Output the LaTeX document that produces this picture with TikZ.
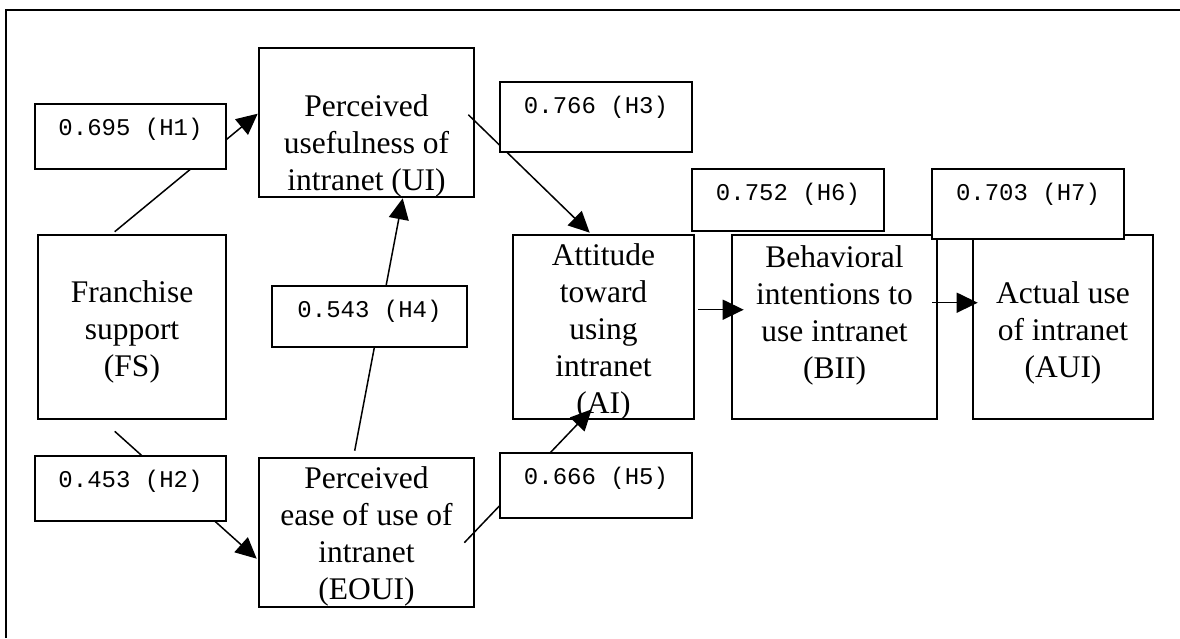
\documentclass[tikz,border=0pt]{standalone}
\usepackage{fontspec}
\setmainfont{Liberation Serif}
\setmonofont{Liberation Mono}
\usetikzlibrary{arrows.meta,calc}
\newcommand{\ls}{\rule[-9pt]{0pt}{37pt}}
\tikzset{
  mainbox/.style={draw, line width=2.6pt, fill=white, inner sep=0pt},
  boxtext/.style={align=center, inner sep=0pt, font=\fontsize{31.5}{37}\selectfont},
  coefbox/.style={draw, line width=2pt, fill=white, inner sep=0pt, text height=31pt,
    font=\ttfamily\fontsize{24}{28}\selectfont},
  link/.style={line width=1.5pt, -{Triangle[length=21pt,width=20pt]}},
  frameline/.style={line width=2.8pt}
}
\begin{document}
\begin{tikzpicture}[x=1pt,y=-1pt]
\useasboundingbox (0,0) rectangle (1180,638);
% outer frame (open to the right and bottom)
\coordinate (fcorner) at (6,10);
\coordinate (fbottom) at (6,638);
\coordinate (fright) at (1180,10);
\draw[frameline] (fbottom) -- (fcorner) -- (fright);

% main boxes
\node[mainbox, minimum width=215pt, minimum height=149pt] (UI) at (366.5,122.5) {};
\node[mainbox, minimum width=188pt, minimum height=184pt] (FS) at (132,327) {};
\node[mainbox, minimum width=181pt, minimum height=184pt] (ATT) at (603.5,327) {};
\node[mainbox, minimum width=205pt, minimum height=184pt] (BII) at (834.5,327) {};
\node[mainbox, minimum width=180pt, minimum height=184pt] (AUI) at (1063,327) {};
\node[mainbox, minimum width=215pt, minimum height=149pt] (EOUI) at (366.5,532.5) {};

% box texts
\node[boxtext] (tUI) at ($(UI.center)+(0,21)$) {\ls Perceived\\\ls usefulness of\\\ls intranet (UI)};
\node[boxtext] (tFS) at ($(FS.center)+(0,2.5)$) {\ls Franchise\\\ls support\\\ls (FS)};
\node[boxtext] (tATT) at ($(ATT.center)+(0,2.5)$) {\ls Attitude\\\ls toward\\\ls using\\\ls intranet\\\ls (AI)};
\node[boxtext] (tBII) at ($(BII.center)+(0,-14)$) {\ls Behavioral\\\ls intentions to\\\ls use intranet\\\ls (BII)};
\node[boxtext] (tAUI) at ($(AUI.center)+(0,3.5)$) {\ls Actual use\\\ls of intranet\\\ls (AUI)};
\node[boxtext] (tEOUI) at ($(EOUI.center)+(0,1.5)$) {\ls Perceived\\\ls ease of use of\\\ls intranet\\\ls (EOUI)};

% connector end points
\coordinate (h1s) at ($(FS.north west)+(78,-2)$);
\coordinate (h1e) at ($(UI.north west)+(0,67)$);
\coordinate (h3s) at ($(UI.north east)+(-7,68)$);
\coordinate (h3e) at ($(ATT.north west)+(78,-1)$);
\coordinate (h4s) at ($(EOUI.north west)+(97,-6)$);
\coordinate (h4e) at ($(UI.south west)+(145,0)$);
\coordinate (h2s) at ($(FS.south west)+(78,11)$);
\coordinate (h2e) at ($(EOUI.north west)+(-1,102)$);
\coordinate (h5s) at ($(EOUI.north east)+(-11,86)$);
\coordinate (h5e) at ($(ATT.south west)+(80,-11)$);
\coordinate (h6s) at ($(ATT.north east)+(3,76)$);
\coordinate (h6e) at ($(BII.north west)+(13,76)$);
\coordinate (h7s) at ($(BII.north east)+(-6,69)$);
\coordinate (h7e) at ($(AUI.north west)+(6,69)$);

% connectors
\draw[link] (h1s) -- (h1e);
\draw[link] (h3s) -- (h3e);
\draw[link] (h4s) -- (h4e);
\draw[link] (h2s) -- (h2e);
\draw[link] (h5s) -- (h5e);
\draw[link] (h6s) -- (h6e);
\draw[link] (h7s) -- (h7e);

% coefficient labels
\node[coefbox, minimum width=191pt, text depth=34pt] (H1) at (130.5,136.5) {0.695 (H1)};
\node[coefbox, minimum width=192pt, text depth=39pt] (H3) at (596,117) {0.766 (H3)};
\node[coefbox, minimum width=195pt, text depth=30pt] (H4) at (369.5,316.5) {0.543 (H4)};
\node[coefbox, minimum width=191pt, text depth=34pt] (H2) at (130.5,488.5) {0.453 (H2)};
\node[coefbox, minimum width=192pt, text depth=34pt] (H5) at (596,485.5) {0.666 (H5)};
\node[coefbox, minimum width=192pt, text depth=31pt] (H6) at (788,200) {0.752 (H6)};
\node[coefbox, minimum width=192pt, text depth=39pt] (H7) at (1028,204) {0.703 (H7)};
\end{tikzpicture}
\end{document}
